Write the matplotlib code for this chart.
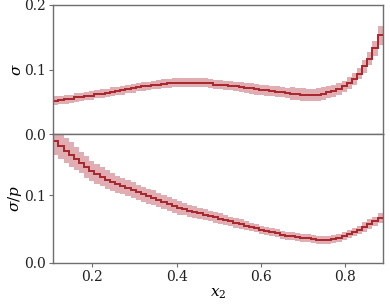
import numpy as np
import matplotlib
matplotlib.use("Agg")
import matplotlib.pyplot as plt

plt.rcParams['font.family'] = ['DejaVu Serif']
plt.rcParams['mathtext.fontset'] = 'dejavuserif'

# bin edges of x_2 (64 bins)
x_lo, x_hi, n_bins = 0.1075, 0.889, 64
edges = np.linspace(x_lo, x_hi, n_bins + 1)

sigma = [0.052, 0.053, 0.054, 0.055, 0.057, 0.058, 0.059, 0.060,
         0.062, 0.063, 0.064, 0.066, 0.067, 0.068, 0.070, 0.071,
         0.073, 0.074, 0.075, 0.076, 0.077, 0.078, 0.079, 0.0795,
         0.080, 0.080, 0.080, 0.080, 0.080, 0.0795, 0.079, 0.077,
         0.0765, 0.0755, 0.075, 0.074, 0.073, 0.072, 0.071, 0.0695,
         0.069, 0.068, 0.067, 0.066, 0.065, 0.064, 0.063, 0.062,
         0.0615, 0.061, 0.061, 0.0615, 0.063, 0.065, 0.067, 0.070,
         0.074, 0.079, 0.086, 0.094, 0.105, 0.117, 0.133, 0.153]
sigma_err = [0.0065] * 21 + [0.0070] * 15 + [0.008] * 10 + [0.0095] * 10 + \
            [0.009] * 4 + [0.010] * 2 + [0.012, 0.015]

ratio = [0.180, 0.172, 0.166, 0.160, 0.154, 0.148, 0.142, 0.136,
         0.131, 0.127, 0.123, 0.119, 0.116, 0.113, 0.110, 0.107,
         0.104, 0.101, 0.098, 0.096, 0.093, 0.090, 0.087, 0.084,
         0.081, 0.079, 0.077, 0.075, 0.073, 0.071, 0.069, 0.067,
         0.065, 0.063, 0.061, 0.059, 0.057, 0.055, 0.053, 0.051,
         0.048, 0.047, 0.045, 0.044, 0.041, 0.040, 0.039, 0.038,
         0.037, 0.036, 0.035, 0.034, 0.034, 0.034, 0.035, 0.037,
         0.040, 0.042, 0.045, 0.049, 0.053, 0.057, 0.061, 0.066]
ratio_err = [0.020, 0.019, 0.018, 0.018, 0.017, 0.016, 0.016, 0.015,
             0.015, 0.014, 0.014, 0.013, 0.013, 0.012, 0.012, 0.012,
             0.011, 0.011, 0.011, 0.011, 0.010, 0.010, 0.010, 0.010,
             0.010, 0.009, 0.009, 0.009, 0.008, 0.008, 0.008, 0.008,
             0.008, 0.007, 0.007, 0.007, 0.007, 0.006, 0.006, 0.006,
             0.006, 0.006, 0.006, 0.006, 0.006, 0.006, 0.006, 0.006,
             0.006, 0.006, 0.006, 0.006, 0.006, 0.006, 0.006, 0.006,
             0.006, 0.006, 0.006, 0.006, 0.007, 0.007, 0.007, 0.007]

x_ticks = [0.2, 0.4, 0.6, 0.8]
top_yticks = [0.0, 0.1, 0.2]
bot_yticks = [0.0, 0.1]

line_c = '#a8262c'
band_c = '#dfadb2'
spine_c = '#6e6e6e'

fig = plt.figure(figsize=(3.9, 3.04), dpi=100)
L, R = 0.1367, 0.9813
y_top, y_mid, y_bot = 0.9836, 0.5582, 0.1359
ax1 = fig.add_axes([L, y_mid, R - L, y_top - y_mid])
ax2 = fig.add_axes([L, y_bot, R - L, y_mid - y_bot], sharex=ax1)

def draw(ax, vals, errs):
    vals = np.asarray(vals)
    errs = np.asarray(errs)
    lo = np.append(vals - errs, vals[-1] - errs[-1])
    hi = np.append(vals + errs, vals[-1] + errs[-1])
    ax.fill_between(edges, lo, hi, step='post', color=band_c, lw=0)
    ax.stairs(vals, edges, color=line_c, lw=1.4, baseline=None)

draw(ax1, sigma, sigma_err)
draw(ax2, ratio, ratio_err)

ax1.set_xlim(x_lo, x_hi)
ax1.set_ylim(0, 0.2)
ax2.set_ylim(0, 0.19)
ax1.set_yticks(top_yticks)
ax2.set_yticks(bot_yticks)
ax2.set_xticks(x_ticks)
ax1.tick_params(axis='x', bottom=False, labelbottom=False)
for ax in (ax1, ax2):
    for s in ax.spines.values():
        s.set_color(spine_c)
        s.set_linewidth(1.0)
    ax.tick_params(colors=spine_c, labelcolor='#222222', labelsize=10,
                   length=3, width=0.8, pad=2)
ax1.set_ylabel(r'$\sigma$', fontsize=11, labelpad=0)
ax2.set_ylabel(r'$\sigma/p$', fontsize=11, labelpad=0)
ax2.set_xlabel(r'$x_2$', fontsize=11, labelpad=2)

fig.savefig('out.png', dpi=100)
